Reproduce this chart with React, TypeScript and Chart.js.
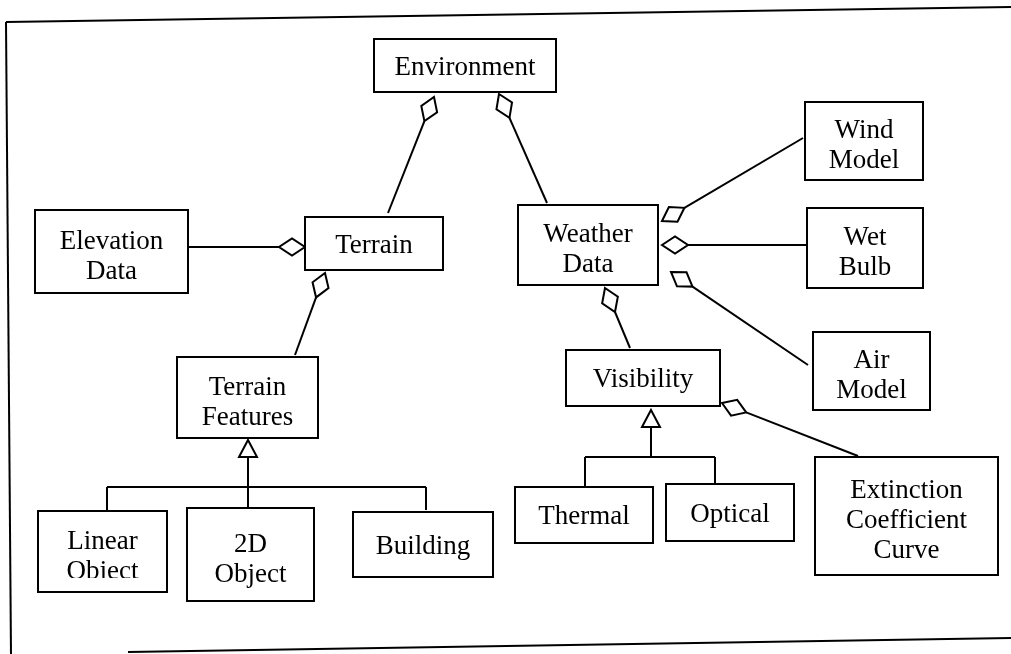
import React, { useEffect, useRef } from "react";
import { Chart, registerables } from "chart.js";

Chart.register(...registerables);

// ---- Diagram data (diagram units: 0..1011 across, 0..654 down) ----
const boxLabels: string[][] = [
  ["Environment"],
  ["Wind", "Model"],
  ["Elevation", "Data"],
  ["Terrain"],
  ["Weather", "Data"],
  ["Wet", "Bulb"],
  ["Terrain", "Features"],
  ["Visibility"],
  ["Air", "Model"],
  ["Linear", "Object"],
  ["2D", "Object"],
  ["Building"],
  ["Thermal"],
  ["Optical"],
  ["Extinction", "Coefficient", "Curve"],
];
const boxLeft = [374, 805, 35, 305, 518, 807, 177, 566, 813, 38, 187, 353, 515, 666, 815];
const boxTop = [39, 102, 210, 217, 205, 208, 357, 350, 332, 511, 508, 512, 487, 484, 457];
const boxRight = [556, 923, 188, 443, 658, 923, 318, 720, 930, 167, 314, 493, 653, 794, 998];
const boxBottom = [92, 180, 293, 270, 285, 288, 438, 406, 410, 592, 601, 577, 543, 541, 575];
const boxTextClip = [0, 0, 0, 0, 0, 275, 0, 0, 0, 578, 0, 0, 0, 0, 0];

// aggregation links: line start (part side) and diamond tip (whole side)
const aggFromX = [388, 547, 188, 295, 803, 807, 808, 630, 858];
const aggFromY = [213, 203, 247, 355, 138, 245, 365, 348, 456];
const aggTipX = [434, 499, 305, 325, 662, 662, 671, 605, 722];
const aggTipY = [97, 94, 247, 273, 221, 245, 272, 288, 403];

// generalization trees
const genApexX = [248, 651];
const genApexY = [440, 410];
const genBarY = [487, 457];
const genChildX = [[107, 248, 426], [585, 715]];
const genChildTop = [[511, 508, 510], [486, 483]];

// page frame
const frameX = [[6, 1011], [6, 11], [128, 1011]];
const frameY = [[22, 7], [22, 654], [652, 638]];

const DIAMOND_LEN = 26;
const DIAMOND_HALF = 8.5;
const TRI_H = 17;
const TRI_HALF = 9;
const INK = "#000";
const FONT = "27px 'Liberation Serif', 'Times New Roman', serif";

function unit(fx: number, fy: number, tx: number, ty: number) {
  const dx = tx - fx, dy = ty - fy;
  const n = Math.hypot(dx, dy) || 1;
  return [dx / n, dy / n];
}

function lineDS(pts: { x: number; y: number }[]) {
  return {
    type: "scatter" as const,
    data: pts,
    showLine: true,
    pointRadius: 0,
    borderColor: INK,
    backgroundColor: INK,
    borderWidth: 2,
    fill: false,
  };
}

function buildDatasets() {
  const ds: any[] = [];
  frameX.forEach((xs, i) => {
    ds.push(lineDS([{ x: xs[0], y: frameY[i][0] }, { x: xs[1], y: frameY[i][1] }]));
  });
  aggFromX.forEach((fx, i) => {
    const fy = aggFromY[i];
    const [ux, uy] = unit(fx, fy, aggTipX[i], aggTipY[i]);
    const bx = aggTipX[i] - ux * DIAMOND_LEN;
    const by = aggTipY[i] - uy * DIAMOND_LEN;
    ds.push(lineDS([{ x: fx, y: fy }, { x: bx, y: by }]));
  });
  genApexX.forEach((ax, g) => {
    const baseY = genApexY[g] + TRI_H;
    ds.push(lineDS([{ x: ax, y: baseY }, { x: ax, y: genBarY[g] }]));
    const xs = genChildX[g];
    ds.push(lineDS([{ x: Math.min(...xs), y: genBarY[g] }, { x: Math.max(...xs), y: genBarY[g] }]));
    xs.forEach((cx, k) => {
      ds.push(lineDS([{ x: cx, y: genBarY[g] }, { x: cx, y: genChildTop[g][k] }]));
    });
  });
  return ds;
}

const diagramPlugin = {
  id: "umlDiagram",
  afterDatasetsDraw(chart: any) {
    const ctx: CanvasRenderingContext2D = chart.ctx;
    const xs = chart.scales.x;
    const ys = chart.scales.y;
    const px = (v: number) => xs.getPixelForValue(v);
    const py = (v: number) => ys.getPixelForValue(v);
    ctx.save();
    ctx.lineWidth = 2;
    ctx.strokeStyle = INK;
    ctx.lineJoin = "miter";

    // diamonds
    aggFromX.forEach((fx, i) => {
      const tx = aggTipX[i], ty = aggTipY[i];
      const [ux, uy] = unit(fx, aggFromY[i], tx, ty);
      const vx = -uy, vy = ux;
      const bx = tx - ux * DIAMOND_LEN, by = ty - uy * DIAMOND_LEN;
      const mx = tx - ux * DIAMOND_LEN / 2, my = ty - uy * DIAMOND_LEN / 2;
      ctx.beginPath();
      ctx.moveTo(px(tx), py(ty));
      ctx.lineTo(px(mx + vx * DIAMOND_HALF), py(my + vy * DIAMOND_HALF));
      ctx.lineTo(px(bx), py(by));
      ctx.lineTo(px(mx - vx * DIAMOND_HALF), py(my - vy * DIAMOND_HALF));
      ctx.closePath();
      ctx.fillStyle = "#fff";
      ctx.fill();
      ctx.stroke();
    });

    // triangles
    genApexX.forEach((ax, g) => {
      const ay = genApexY[g];
      ctx.beginPath();
      ctx.moveTo(px(ax), py(ay));
      ctx.lineTo(px(ax + TRI_HALF), py(ay + TRI_H));
      ctx.lineTo(px(ax - TRI_HALF), py(ay + TRI_H));
      ctx.closePath();
      ctx.fillStyle = "#fff";
      ctx.fill();
      ctx.stroke();
    });

    // boxes + text
    ctx.font = FONT;
    ctx.textAlign = "center";
    ctx.textBaseline = "alphabetic";
    boxLabels.forEach((lines, i) => {
      const l = px(boxLeft[i]), r = px(boxRight[i]);
      const t = py(boxTop[i]), b = py(boxBottom[i]);
      ctx.fillStyle = "#fff";
      ctx.fillRect(l, t, r - l, b - t);
      ctx.strokeRect(l, t, r - l, b - t);
      const cx = (l + r) / 2;
      const cy = (t + b) / 2;
      const n = lines.length;
      const off = n > 1 ? 12 : 9;
      ctx.save();
      ctx.beginPath();
      const clipB = boxTextClip[i] ? py(boxTextClip[i]) : b - 1;
      ctx.rect(l + 1, t + 1, r - l - 2, clipB - t - 1);
      ctx.clip();
      ctx.fillStyle = INK;
      lines.forEach((s, k) => {
        ctx.fillText(s, cx, cy + (k - (n - 1) / 2) * 30 + off);
      });
      ctx.restore();
    });
    ctx.restore();
  },
};

export default function App() {
  const ref = useRef<HTMLCanvasElement | null>(null);
  useEffect(() => {
    const prevMargin = document.body.style.margin;
    document.body.style.margin = "0";
    if (!ref.current) return;
    const chart = new Chart(ref.current, {
      type: "scatter",
      data: { datasets: buildDatasets() },
      options: {
        animation: false,
        responsive: false,
        devicePixelRatio: 1,
        layout: { padding: 0 },
        events: [],
        scales: {
          x: { type: "linear", min: 0, max: 1011, display: false },
          y: { type: "linear", min: 0, max: 654, reverse: true, display: false },
        },
        plugins: {
          legend: { display: false },
          tooltip: { enabled: false },
          title: { display: false },
        },
      },
      plugins: [diagramPlugin],
    });
    return () => {
      chart.destroy();
      document.body.style.margin = prevMargin;
    };
  }, []);
  return (
    <div style={{ position: "absolute", left: 0, top: 0, width: 1011, height: 654, background: "#fff" }}>
      <canvas ref={ref} width={1011} height={654} style={{ display: "block" }} />
    </div>
  );
}
